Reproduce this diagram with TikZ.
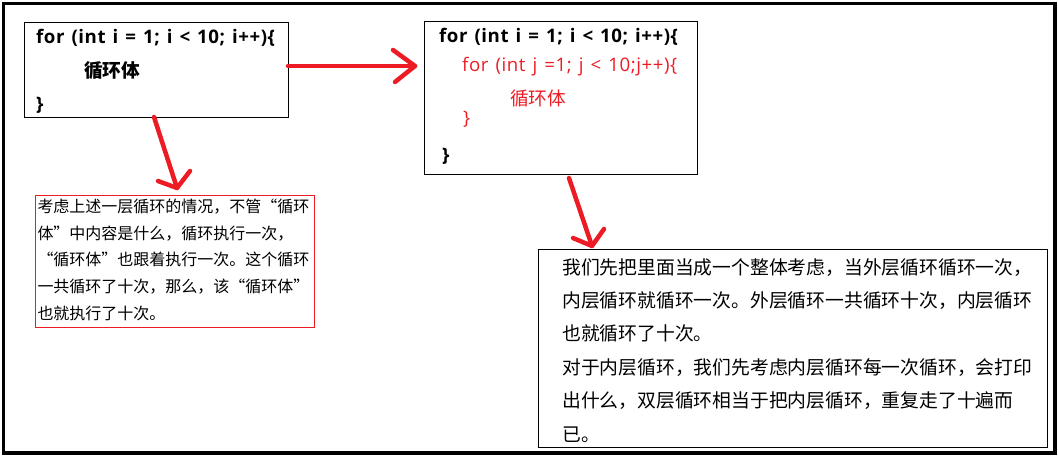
\documentclass[tikz,border=0pt]{standalone}
\usepackage{fontspec}
\setmainfont{Noto Sans CJK SC}
\newfontfamily\cjk{Noto Sans CJK SC}
\newfontfamily\code[WordSpace=1.3,LetterSpace=3]{Open Sans}
\definecolor{pred}{RGB}{237,28,36}
\newcommand{\qo}{\makebox[1em][r]{“}}
\newcommand{\qc}{\makebox[1em][l]{”}}
\tikzset{
  box/.style={draw=black, line width=1pt, anchor=north west, inner sep=0pt},
  redbox/.style={draw=pred, line width=1pt, anchor=north west, inner sep=0pt},
  codeb/.style={anchor=base west, inner sep=0pt, font=\code\bfseries\fontsize{18.67}{20}\selectfont},
  coder/.style={anchor=base west, inner sep=0pt, text=pred, font=\code\fontsize{18.67}{20}\selectfont},
  cjkb/.style={anchor=base west, inner sep=0pt, font=\cjk\bfseries\fontsize{18.67}{20}\selectfont},
  cjkr/.style={anchor=base west, inner sep=0pt, text=pred, font=\cjk\fontsize{18.67}{20}\selectfont},
  smalltxt/.style={anchor=base west, inner sep=0pt, font=\cjk\fontsize{16}{18}\selectfont},
  bigtxt/.style={anchor=base west, inner sep=0pt, font=\cjk\fontsize{18.8}{20}\selectfont},
  redarr/.style={draw=pred, line width=4.5pt, line cap=round, line join=round}
}
\begin{document}
\begin{tikzpicture}[x=1pt,y=-1pt]
\useasboundingbox (0,0) rectangle (1058,458);
\draw[line width=3.5pt] (3.5,3.5) rectangle (1055,453);

% boxes
\node[box, minimum width=264pt, minimum height=95pt] (b1) at (24,22) {};
\node[box, minimum width=273pt, minimum height=153pt] (b3) at (424,21) {};
\node[redbox, minimum width=279pt, minimum height=132pt] (b2) at (35,195) {};
\node[box, minimum width=509pt, minimum height=198pt] (b4) at (538,249) {};

% box 1 text
\node[codeb] (t1a) at (36,43) {for (int i = 1; i < 10; i++)\{};
\node[cjkb] (t1b) at (84,77) {循环体};
\node[codeb] (t1c) at (36,110) {\}};

% box 3 text
\node[codeb] (t3a) at (439,42) {for (int i = 1; i < 10; i++)\{};
\node[coder] (t3b) at (462,71.5) {for (int j =1; j < 10;j++)\{};
\node[cjkr] (t3c) at (510,105) {循环体};
\node[coder] (t3d) at (463,124) {\}};
\node[codeb] (t3e) at (442,161) {\}};

% box 2 text
\node[smalltxt] (s1) at (37.3,212.6) {考虑上述一层循环的情况，不管\qo 循环};
\node[smalltxt] (s2) at (37.3,239.2) {体\qc 中内容是什么，循环执行一次，};
\node[smalltxt] (s3) at (37.3,265.8) {\qo 循环体\qc 也跟着执行一次。这个循环};
\node[smalltxt] (s4) at (37.3,292.4) {一共循环了十次，那么，该\qo 循环体\qc};
\node[smalltxt] (s5) at (37.3,319.0) {也就执行了十次。};

% box 4 text
\node[bigtxt] (l1) at (562,274) {我们先把里面当成一个整体考虑，当外层循环循环一次，};
\node[bigtxt] (l2) at (562,307.4) {内层循环就循环一次。外层循环一共循环十次，内层循环};
\node[bigtxt] (l3) at (562,340.8) {也就循环了十次。};
\node[bigtxt] (l4) at (562,374.2) {对于内层循环，我们先考虑内层循环每一次循环，会打印};
\node[bigtxt] (l5) at (562,407.6) {出什么，双层循环相当于把内层循环，重复走了十遍而};
\node[bigtxt] (l6) at (562,441) {已。};

% arrows
\coordinate (a1s) at (288,66);
\coordinate (a1t) at (415,66);
\coordinate (a1l) at (393,50);
\coordinate (a1r) at (395,82);
\draw[redarr] (a1s) -- (a1t);
\draw[redarr] (a1l) -- (a1t) -- (a1r);

\coordinate (a2s) at (154,117);
\coordinate (a2t) at (177,188);
\coordinate (a2l) at (158,181);
\coordinate (a2r) at (190,171);
\draw[redarr] (a2s) -- (a2t);
\draw[redarr] (a2l) -- (a2t) -- (a2r);

\coordinate (a3s) at (569,178);
\coordinate (a3t) at (592,246);
\coordinate (a3l) at (573,238);
\coordinate (a3r) at (604,229);
\draw[redarr] (a3s) -- (a3t);
\draw[redarr] (a3l) -- (a3t) -- (a3r);
\end{tikzpicture}
\end{document}
